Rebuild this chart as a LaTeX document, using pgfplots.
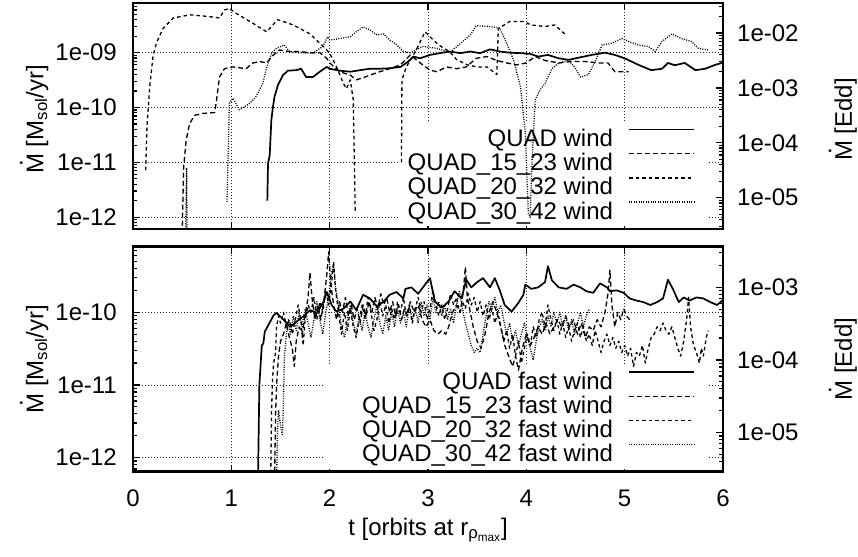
\documentclass[border=0pt]{standalone}
\usepackage{fontspec}
\setmainfont{Liberation Sans}
\usepackage{pgfplots}
\pgfplotsset{compat=1.18}
\newcommand\Mdot{\makebox[0pt][l]{\hspace{0.28em}\raisebox{0.86em}{.}}M}
\tikzset{
  sA/.style={black, line width=1.7pt, solid, line join=round},
  sB/.style={black, line width=1.3pt, dash pattern=on 5pt off 3pt, line join=round},
  sC/.style={black, line width=1.3pt, dash pattern=on 3.5pt off 3pt, line join=round},
  sD/.style={black, line width=1.3pt, dash pattern=on 1pt off 1.4pt, line join=round},
}
\pgfplotsset{
  legend image code/.code={\path[draw=none,fill=none] (0pt,0pt) (95pt,0pt); \draw[#1] (16pt,8.5pt) -- (81pt,8.5pt);},
}
\begin{document}
\fontsize{24}{28}\selectfont
\begin{tikzpicture}
\useasboundingbox (0,0) rectangle (858pt,556pt);
% ================= TOP PANEL =================
\begin{axis}[scale only axis, width=590pt, xmin=0, xmax=6, ymode=log,
  axis line style={line width=2.5pt},
  tick align=inside, major tick length=7pt, minor tick length=4pt,
  every tick/.append style={line width=1.2pt, black},
  xtick={0,1,2,3,4,5,6}, xtick pos=both, ytick pos=left,
  grid=major,
  major grid style={line width=0.8pt, dash pattern=on 1pt off 2pt, black!85},
  yticklabel style={anchor=east, inner sep=0pt, xshift=-16pt},
  legend plot pos=right,
  legend cell align=right,
  legend style={anchor=north east, fill=none, draw=none, inner xsep=0pt, inner ysep=5.5pt,
    row sep=6.5pt, column sep=0pt, nodes={inner sep=0pt, text height=17pt, text depth=0pt},
    at={(rel axis cs:0.975,0.469)}},
  height=226pt, at={(133pt,327pt)}, anchor=south west,
  ymin=6.1e-13, ymax=8.05e-9,
  ytick={1e-12,1e-11,1e-10,1e-9}, yticklabels={1e-12,1e-11,1e-10,1e-09},
  minor ytick={7e-13,8e-13,9e-13,2e-12,3e-12,4e-12,5e-12,6e-12,7e-12,8e-12,9e-12,2e-11,3e-11,4e-11,5e-11,6e-11,7e-11,8e-11,9e-11,2e-10,3e-10,4e-10,5e-10,6e-10,7e-10,8e-10,9e-10,2e-9,3e-9,4e-9,5e-9,6e-9,7e-9,8e-9},
  xticklabels={},
  ylabel={\Mdot{} [M\textsubscript{sol}/yr]},
  ylabel style={at={(axis description cs:-0.152,0.485)}, anchor=base, inner sep=0pt},
]
\fill[white] (rel axis cs:0.449,0.013) rectangle (rel axis cs:0.975,0.469);
\addlegendimage{sA}\addlegendentry{QUAD wind}
\addlegendimage{sB}\addlegendentry{QUAD\_15\_23 wind}
\addlegendimage{sC}\addlegendentry{QUAD\_20\_32 wind}
\addlegendimage{sD}\addlegendentry{QUAD\_30\_42 wind}
\end{axis}
\begin{axis}[scale only axis, width=590pt, xmin=0, xmax=6, ymode=log,
  axis x line=none, axis y line*=right,
  axis line style={line width=2.5pt},
  tick align=inside, major tick length=7pt, minor tick length=4pt,
  every tick/.append style={line width=1.2pt, black},
  yticklabel style={anchor=west, inner sep=0pt, xshift=14pt},
  height=226pt, at={(133pt,327pt)}, anchor=south west,
  ymin=2.68e-6, ymax=3.53e-2,
  ytick={1e-5,1e-4,1e-3,1e-2}, yticklabels={1e-05,1e-04,1e-03,1e-02},
  minor ytick={3e-6,4e-6,5e-6,6e-6,7e-6,8e-6,9e-6,2e-5,3e-5,4e-5,5e-5,6e-5,7e-5,8e-5,9e-5,2e-4,3e-4,4e-4,5e-4,6e-4,7e-4,8e-4,9e-4,2e-3,3e-3,4e-3,5e-3,6e-3,7e-3,8e-3,9e-3,2e-2,3e-2},
  ylabel={\Mdot{} [Edd]},
  ylabel style={at={(axis description cs:1.2186,0.485)}, anchor=base, inner sep=0pt},
]
\end{axis}
\begin{axis}[scale only axis, width=590pt, xmin=0, xmax=6, ymode=log,
  height=226pt, at={(133pt,327pt)}, anchor=south west, hide axis,
  ymin=6.1e-13, ymax=8.05e-9, unbounded coords=jump]
\addplot[sA] coordinates {(1.366,2.0e-12) (1.373,9.5e-12) (1.39,1.35e-11) (1.407,5.9e-11) (1.424,1.05e-10) (1.44,1.6e-10) (1.475,2.6e-10) (1.525,3.9e-10) (1.576,4.7e-10) (1.66,4.8e-10) (1.71,5.1e-10) (1.76,3.6e-10) (1.83,3.6e-10) (1.90,4.5e-10) (1.97,5.5e-10) (2.0,5.1e-10) (2.10,4.7e-10) (2.21,4.5e-10) (2.31,4.8e-10) (2.41,5.1e-10) (2.51,5.1e-10) (2.61,5.2e-10) (2.72,5.5e-10) (2.80,6.9e-10) (2.85,8.5e-10) (2.92,7.9e-10) (3.02,9.1e-10) (3.12,9.8e-10) (3.22,1.05e-9) (3.33,9.8e-10) (3.43,1.05e-9) (3.53,9.8e-10) (3.63,1.15e-9) (3.73,1.05e-9) (3.83,1.0e-9) (3.94,9.8e-10) (4.04,9.5e-10) (4.12,8.5e-10) (4.22,9.1e-10) (4.33,7.9e-10) (4.43,7.4e-10) (4.53,8.1e-10) (4.665,9.1e-10) (4.80,1.0e-9) (4.90,9.1e-10) (5.0,7.9e-10) (5.14,6.0e-10) (5.27,4.8e-10) (5.38,5.1e-10) (5.44,6.5e-10) (5.51,5.9e-10) (5.61,6.5e-10) (5.72,4.8e-10) (5.82,5.1e-10) (5.92,6.0e-10) (5.99,6.5e-10)};
\addplot[sB] coordinates {(0.50,5e-13) (0.515,8.3e-12) (0.525,1.26e-11) (0.54,2.5e-11) (0.576,5.1e-11) (0.627,7.2e-11) (0.71,7.8e-11) (0.83,8.1e-11) (0.85,1.38e-10) (0.88,3.6e-10) (0.93,5.1e-10) (1.02,5.5e-10) (1.15,5.1e-10) (1.22,6.5e-10) (1.29,6.9e-10) (1.36,6.5e-10) (1.41,8.5e-10) (1.49,1.12e-9) (1.59,1.05e-9) (1.69,1.05e-9) (1.80,1.0e-9) (1.90,1.0e-9) (1.97,7.9e-10) (2.0,6.5e-10) (2.10,4.5e-10) (2.21,3.9e-10) (2.27,3.2e-10) (2.34,3.5e-10) (2.41,3.9e-10) (2.51,4.5e-10) (2.61,5.1e-10) (2.72,6.0e-10) (2.82,9.1e-10) (2.92,6.5e-10) (3.02,4.8e-10) (3.09,4.5e-10) (3.19,5.5e-10) (3.29,5.1e-10) (3.39,5.5e-10) (3.49,7.9e-10) (3.60,8.5e-10) (3.70,7.2e-10) (3.80,6.5e-10) (3.90,6.0e-10) (4.0,6.5e-10) (4.09,8.5e-10) (4.19,7.2e-10) (4.33,6.5e-10) (4.46,6.9e-10) (4.60,6.9e-10) (4.73,6.5e-10) (4.83,6.5e-10) (4.90,4.5e-10) (5.04,4.5e-10)};
\addplot[sC] coordinates {(0.129,7.2e-12) (0.142,4.5e-11) (0.17,2.4e-10) (0.203,8.5e-10) (0.237,1.48e-9) (0.305,2.76e-9) (0.41,4.3e-9) (0.58,4.9e-9) (0.75,4.6e-9) (0.88,4.3e-9) (0.93,6.0e-9) (0.98,6.4e-9) (1.05,5.2e-9) (1.19,3.7e-9) (1.36,2.4e-9) (1.47,4.0e-9) (1.63,3.2e-9) (1.80,2.2e-9) (1.90,1.48e-9) (1.97,1.12e-9) (2.0,9.8e-10) (2.07,5.5e-10) (2.14,2.75e-10) (2.17,2.2e-10) (2.21,3.2e-10) (2.24,1.38e-10) (2.26,1.2e-12) (2.265,nan) (2.73,1.0e-11) (2.735,3.2e-10) (2.78,5.5e-10) (2.88,1.12e-9) (2.97,2.4e-9) (3.02,1.95e-9) (3.09,1.48e-9) (3.16,1.2e-9) (3.22,1.05e-9) (3.29,7.5e-10) (3.40,6.0e-10) (3.50,5.5e-10) (3.60,5.5e-10) (3.70,4.0e-10) (3.715,2.76e-9) (3.75,3.0e-9) (3.83,3.7e-9) (3.97,3.7e-9) (4.05,3.2e-9) (4.19,3.0e-9) (4.29,3.2e-9) (4.39,2.2e-9)};
\addplot[sD] coordinates {(0.535,5e-13) (0.545,8e-12) (0.55,5e-13) (0.555,nan) (0.956,1.9e-12) (0.98,1.2e-10) (1.02,1.48e-10) (1.08,9.1e-11) (1.12,1.0e-10) (1.19,1.2e-10) (1.25,1.58e-10) (1.32,2.75e-10) (1.36,5.5e-10) (1.41,9.8e-10) (1.46,1.2e-9) (1.54,1.38e-9) (1.59,1.05e-9) (1.69,1.0e-9) (1.83,9.8e-10) (1.93,1.3e-9) (1.98,1.95e-9) (2.0,1.7e-9) (2.10,1.8e-9) (2.21,1.95e-9) (2.27,2.4e-9) (2.34,2.95e-9) (2.41,2.6e-9) (2.48,2.1e-9) (2.55,2.2e-9) (2.61,1.7e-9) (2.68,1.4e-9) (2.75,1.05e-9) (2.82,1.0e-9) (2.95,1.3e-9) (3.09,1.2e-9) (3.22,1.0e-9) (3.33,1.48e-9) (3.43,2.1e-9) (3.49,3.1e-9) (3.63,3.0e-9) (3.73,2.8e-9) (3.80,1.48e-9) (3.87,7.4e-10) (3.94,2.4e-10) (3.99,3.4e-11) (4.02,1.2e-12) (4.04,1.0e-12) (4.055,8.3e-12) (4.09,1.38e-10) (4.14,2.1e-10) (4.19,2.75e-10) (4.26,5.1e-10) (4.33,6.5e-10) (4.43,7.2e-10) (4.49,5.5e-10) (4.55,3.6e-10) (4.63,4.0e-10) (4.70,6.9e-10) (4.77,1.38e-9) (4.87,1.48e-9) (4.97,1.82e-9) (5.04,1.6e-9) (5.14,1.38e-9) (5.24,1.3e-9) (5.31,1.05e-9) (5.38,1.6e-9) (5.48,2.2e-9) (5.58,1.8e-9) (5.68,1.6e-9) (5.75,1.2e-9) (5.85,1.12e-9)};
\end{axis}
% ================= BOTTOM PANEL =================
\begin{axis}[scale only axis, width=590pt, xmin=0, xmax=6, ymode=log,
  axis line style={line width=2.5pt},
  tick align=inside, major tick length=7pt, minor tick length=4pt,
  every tick/.append style={line width=1.2pt, black},
  xtick={0,1,2,3,4,5,6}, xtick pos=both, ytick pos=left,
  grid=major,
  major grid style={line width=0.8pt, dash pattern=on 1pt off 2pt, black!85},
  yticklabel style={anchor=east, inner sep=0pt, xshift=-16pt},
  xticklabel style={anchor=north, inner sep=0pt, yshift=-18pt},
  legend plot pos=right,
  legend cell align=right,
  legend style={anchor=north east, fill=none, draw=none, inner xsep=0pt, inner ysep=5.5pt,
    row sep=6.5pt, column sep=0pt, nodes={inner sep=0pt, text height=17pt, text depth=0pt},
    at={(rel axis cs:0.975,0.471)}},
  height=225pt, at={(133pt,84.3pt)}, anchor=south west,
  ymin=6.41e-13, ymax=7.98e-10,
  ytick={1e-12,1e-11,1e-10}, yticklabels={1e-12,1e-11,1e-10},
  minor ytick={7e-13,8e-13,9e-13,2e-12,3e-12,4e-12,5e-12,6e-12,7e-12,8e-12,9e-12,2e-11,3e-11,4e-11,5e-11,6e-11,7e-11,8e-11,9e-11,2e-10,3e-10,4e-10,5e-10,6e-10,7e-10},
  xticklabels={0,1,2,3,4,5,6},
  xlabel={t [orbits at r\textsubscript{ρ\textsubscript{max}}]},
  xlabel style={at={(axis description cs:0.5,0)}, anchor=base, yshift=-63.3pt, inner sep=0pt},
  ylabel={\Mdot{} [M\textsubscript{sol}/yr]},
  ylabel style={at={(axis description cs:-0.152,0.5)}, anchor=base, inner sep=0pt},
]
\fill[white] (rel axis cs:0.325,0.013) rectangle (rel axis cs:0.975,0.471);
\addlegendimage{sA}\addlegendentry{QUAD fast wind}
\addlegendimage{sB}\addlegendentry{QUAD\_15\_23 fast wind}
\addlegendimage{sC}\addlegendentry{QUAD\_20\_32 fast wind}
\addlegendimage{sD}\addlegendentry{QUAD\_30\_42 fast wind}
\end{axis}
\begin{axis}[scale only axis, width=590pt, xmin=0, xmax=6, ymode=log,
  axis x line=none, axis y line*=right,
  axis line style={line width=2.5pt},
  tick align=inside, major tick length=7pt, minor tick length=4pt,
  every tick/.append style={line width=1.2pt, black},
  yticklabel style={anchor=west, inner sep=0pt, xshift=14pt},
  height=225pt, at={(133pt,84.3pt)}, anchor=south west,
  ymin=2.9e-6, ymax=3.61e-3,
  ytick={1e-5,1e-4,1e-3}, yticklabels={1e-05,1e-04,1e-03},
  minor ytick={3e-6,4e-6,5e-6,6e-6,7e-6,8e-6,9e-6,2e-5,3e-5,4e-5,5e-5,6e-5,7e-5,8e-5,9e-5,2e-4,3e-4,4e-4,5e-4,6e-4,7e-4,8e-4,9e-4,2e-3,3e-3},
  ylabel={\Mdot{} [Edd]},
  ylabel style={at={(axis description cs:1.2186,0.5)}, anchor=base, inner sep=0pt},
]
\end{axis}
\begin{axis}[scale only axis, width=590pt, xmin=0, xmax=6, ymode=log,
  height=225pt, at={(133pt,84.3pt)}, anchor=south west, hide axis,
  ymin=6.41e-13, ymax=7.98e-10, unbounded coords=jump]
\addplot[sA] coordinates {(1.27,4e-13) (1.285,1.0e-11) (1.31,3.5e-11) (1.325,3.7e-11) (1.34,5.4e-11) (1.38,6.8e-11) (1.43,9.1e-11) (1.46,9.8e-11) (1.53,7.9e-11) (1.60,6.3e-11) (1.66,7.4e-11) (1.73,8.7e-11) (1.80,1.07e-10) (1.87,9.8e-11) (1.94,1.41e-10) (1.97,1.9e-10) (2.02,1.26e-10) (2.07,1.02e-10) (2.14,1.12e-10) (2.21,1.41e-10) (2.27,1.07e-10) (2.34,1.74e-10) (2.41,1.55e-10) (2.48,1.2e-10) (2.55,1.41e-10) (2.61,1.74e-10) (2.68,1.9e-10) (2.75,1.55e-10) (2.77,2.1e-10) (2.83,2.2e-10) (2.90,1.8e-10) (2.97,2.4e-10) (3.02,2.95e-10) (3.07,1.41e-10) (3.14,1.15e-10) (3.21,1.41e-10) (3.27,1.95e-10) (3.34,1.55e-10) (3.39,2.8e-10) (3.44,2.2e-10) (3.50,2.6e-10) (3.56,2.95e-10) (3.63,2.2e-10) (3.68,2.95e-10) (3.73,2.0e-10) (3.78,1.26e-10) (3.85,1.02e-10) (3.92,1.35e-10) (3.97,1.74e-10) (3.99,2.4e-10) (4.05,2.1e-10) (4.12,2.2e-10) (4.19,2.6e-10) (4.22,4.3e-10) (4.26,2.75e-10) (4.33,2.2e-10) (4.41,2.1e-10) (4.48,2.4e-10) (4.55,2.2e-10) (4.61,1.95e-10) (4.68,1.85e-10) (4.75,2.5e-10) (4.82,2.2e-10) (4.85,1.95e-10) (4.92,2.0e-10) (4.99,1.85e-10) (5.05,1.55e-10) (5.12,1.45e-10) (5.19,1.38e-10) (5.26,1.26e-10) (5.33,1.38e-10) (5.39,1.55e-10) (5.44,2.8e-10) (5.49,2.1e-10) (5.55,1.38e-10) (5.60,1.6e-10) (5.66,1.45e-10) (5.73,1.6e-10) (5.80,1.55e-10) (5.87,1.38e-10) (5.94,1.26e-10) (6.0,1.48e-10)};
\addplot[sB] coordinates {(1.44,5e-13) (1.45,4.0e-12) (1.46,1.0e-11) (1.48,2.5e-11) (1.50,4.0e-11) (1.53,5.0e-11) (1.56,7.1e-11) (1.59,4.5e-11) (1.62,3.2e-11) (1.64,1.8e-11) (1.66,4.0e-11) (1.69,6.3e-11) (1.72,5.0e-11) (1.75,8.9e-11) (1.78,1.6e-10) (1.80,3.5e-10) (1.82,1.6e-10) (1.85,7.9e-11) (1.88,1.26e-10) (1.91,7.9e-11) (1.94,1.4e-10) (1.97,3.2e-10) (1.99,6.8e-10) (2.01,2.5e-10) (2.04,1.26e-10) (2.07,7.9e-11) (2.10,1.4e-10) (2.13,1.0e-10) (2.16,1.6e-10) (2.19,8.9e-11) (2.22,1.26e-10) (2.25,7.9e-11) (2.28,1.12e-10) (2.31,7.1e-11) (2.34,1.26e-10) (2.37,8.9e-11) (2.40,1.4e-10) (2.43,1.0e-10) (2.46,1.6e-10) (2.49,1.12e-10) (2.52,1.8e-10) (2.55,1.26e-10) (2.58,1.6e-10) (2.61,1.0e-10) (2.64,1.4e-10) (2.67,8.9e-11) (2.70,1.26e-10) (2.73,7.9e-11) (2.76,1.12e-10) (2.79,8.9e-11) (2.82,1.4e-10) (2.86,1.0e-10) (2.90,1.26e-10) (2.94,7.9e-11) (2.98,6.3e-11) (3.02,7.9e-11) (3.06,5.6e-11) (3.10,5.0e-11) (3.14,5.6e-11) (3.18,5.0e-11) (3.21,6.3e-11) (3.25,1.0e-10) (3.29,1.26e-10) (3.33,1.0e-10) (3.36,2.0e-10) (3.38,4.2e-10) (3.40,1.6e-10) (3.43,1.0e-10) (3.46,6.3e-11) (3.50,4.0e-11) (3.54,3.2e-11) (3.58,5.0e-11) (3.62,1.0e-10) (3.66,1.4e-10) (3.70,1.0e-10) (3.74,6.3e-11) (3.78,3.5e-11) (3.82,2.5e-11) (3.86,1.8e-11) (3.89,2.5e-11) (3.92,1.6e-11) (3.96,3.2e-11) (4.00,5.0e-11) (4.04,3.5e-11) (4.08,4.5e-11) (4.12,6.3e-11) (4.16,5.0e-11) (4.20,7.1e-11) (4.24,5.0e-11) (4.28,6.3e-11) (4.32,7.9e-11) (4.36,6.3e-11) (4.40,8.9e-11) (4.44,6.3e-11) (4.48,7.9e-11) (4.52,5.0e-11) (4.56,7.1e-11) (4.60,4.5e-11) (4.64,6.3e-11) (4.68,5.6e-11) (4.72,7.9e-11) (4.76,6.3e-11) (4.80,1.0e-10) (4.83,1.8e-10) (4.85,3.8e-10) (4.87,1.26e-10) (4.90,6.3e-11) (4.93,1.0e-10) (4.96,7.9e-11) (4.99,1.12e-10) (5.02,8.9e-11) (5.05,7.9e-11)};
\addplot[sC] coordinates {(1.40,5e-13) (1.41,5.0e-12) (1.42,1.26e-11) (1.43,2.0e-11) (1.45,2.8e-11) (1.46,6.3e-11) (1.48,8.9e-11) (1.50,7.1e-11) (1.53,1.0e-10) (1.56,6.3e-11) (1.59,7.9e-11) (1.62,5.0e-11) (1.65,7.9e-11) (1.68,1.26e-10) (1.71,7.1e-11) (1.73,3.5e-11) (1.75,7.9e-11) (1.78,1.26e-10) (1.81,1.0e-10) (1.84,1.6e-10) (1.87,7.9e-11) (1.90,1.4e-10) (1.93,1.0e-10) (1.96,2.0e-10) (1.99,1.26e-10) (2.02,2.5e-10) (2.04,5.0e-10) (2.06,2.0e-10) (2.09,1.0e-10) (2.12,5.0e-11) (2.15,1.0e-10) (2.18,5.6e-11) (2.21,1.12e-10) (2.24,6.3e-11) (2.27,4.5e-11) (2.30,7.9e-11) (2.33,1.26e-10) (2.36,7.9e-11) (2.39,1.6e-10) (2.42,1.0e-10) (2.45,5.6e-11) (2.48,7.9e-11) (2.51,1.4e-10) (2.54,8.9e-11) (2.57,1.26e-10) (2.60,7.1e-11) (2.63,1.12e-10) (2.66,7.9e-11) (2.69,1.4e-10) (2.72,1.0e-10) (2.75,1.6e-10) (2.78,8.9e-11) (2.81,1.26e-10) (2.84,7.1e-11) (2.87,1.12e-10) (2.90,1.6e-10) (2.93,1.0e-10) (2.96,1.4e-10) (2.99,7.9e-11) (3.02,1.12e-10) (3.05,2.0e-10) (3.08,1.26e-10) (3.11,8.9e-11) (3.14,1.26e-10) (3.17,7.9e-11) (3.20,1.12e-10) (3.23,1.8e-10) (3.26,1.26e-10) (3.29,1.6e-10) (3.32,1.0e-10) (3.35,1.4e-10) (3.38,1.12e-10) (3.41,1.8e-10) (3.44,1.26e-10) (3.47,1.6e-10) (3.50,1.0e-10) (3.53,1.4e-10) (3.56,8.9e-11) (3.59,1.26e-10) (3.62,7.9e-11) (3.65,1.12e-10) (3.68,7.1e-11) (3.71,1.0e-10) (3.74,6.3e-11) (3.77,4.0e-11) (3.80,5.6e-11) (3.83,3.2e-11) (3.86,5.0e-11) (3.89,2.5e-11) (3.92,4.0e-11) (3.95,2.0e-11) (3.98,3.2e-11) (4.01,5.0e-11) (4.04,3.5e-11) (4.07,6.3e-11) (4.10,4.5e-11) (4.13,7.9e-11) (4.16,1.0e-10) (4.19,6.3e-11) (4.22,1.26e-10) (4.25,7.9e-11) (4.28,5.6e-11) (4.31,7.9e-11) (4.34,5.0e-11) (4.37,7.1e-11) (4.40,4.5e-11) (4.43,6.3e-11) (4.46,4.0e-11) (4.49,5.6e-11) (4.52,7.1e-11) (4.55,4.5e-11) (4.58,6.3e-11) (4.61,4.0e-11) (4.64,5.0e-11) (4.67,3.5e-11) (4.70,5.6e-11) (4.73,4.0e-11) (4.76,2.8e-11) (4.79,4.0e-11) (4.82,5.0e-11) (4.85,3.5e-11) (4.88,4.5e-11) (4.91,3.2e-11) (4.94,4.0e-11) (4.97,2.8e-11) (5.00,3.5e-11) (5.03,2.5e-11) (5.06,3.2e-11) (5.09,1.8e-11) (5.12,2.8e-11) (5.15,2.5e-11) (5.18,3.5e-11) (5.21,2.0e-11) (5.24,3.2e-11) (5.27,4.5e-11) (5.30,5.0e-11) (5.33,6.3e-11) (5.36,5.6e-11) (5.39,7.1e-11) (5.42,5.6e-11) (5.45,5.0e-11) (5.48,6.3e-11) (5.51,4.5e-11) (5.54,3.2e-11) (5.57,2.5e-11) (5.60,4.0e-11) (5.63,7.9e-11) (5.65,1.6e-10) (5.67,6.3e-11) (5.70,3.5e-11) (5.73,2.8e-11) (5.76,2.0e-11) (5.78,3.2e-11) (5.80,2.5e-11) (5.83,4.5e-11) (5.85,5.6e-11)};
\addplot[sD] coordinates {(1.46,5e-13) (1.47,2.5e-12) (1.48,4.5e-12) (1.50,2.8e-12) (1.52,2.0e-12) (1.53,6.3e-12) (1.54,2.5e-11) (1.56,5.0e-11) (1.58,7.9e-11) (1.60,5.0e-11) (1.63,8.9e-11) (1.66,5.6e-11) (1.69,1.0e-10) (1.72,6.3e-11) (1.75,1.12e-10) (1.78,7.1e-11) (1.81,4.5e-11) (1.84,7.9e-11) (1.87,1.4e-10) (1.90,7.9e-11) (1.93,5.0e-11) (1.96,1.0e-10) (1.99,1.6e-10) (2.02,3.5e-10) (2.04,4.5e-10) (2.06,2.2e-10) (2.09,1.26e-10) (2.12,6.3e-11) (2.15,4.5e-11) (2.18,7.9e-11) (2.21,1.26e-10) (2.24,7.1e-11) (2.27,5.0e-11) (2.30,8.9e-11) (2.33,5.6e-11) (2.36,1.0e-10) (2.39,6.3e-11) (2.42,4.5e-11) (2.45,7.9e-11) (2.48,1.26e-10) (2.51,7.1e-11) (2.54,5.0e-11) (2.57,8.9e-11) (2.60,5.6e-11) (2.63,1.0e-10) (2.66,6.3e-11) (2.69,1.12e-10) (2.72,7.1e-11) (2.75,1.0e-10) (2.78,6.3e-11) (2.81,1.26e-10) (2.84,7.9e-11) (2.87,1.12e-10) (2.90,7.1e-11) (2.93,1.4e-10) (2.96,8.9e-11) (2.99,1.26e-10) (3.02,7.9e-11) (3.05,1.6e-10) (3.08,1.0e-10) (3.11,1.4e-10) (3.14,8.9e-11) (3.17,1.26e-10) (3.20,7.9e-11) (3.23,1.12e-10) (3.26,7.1e-11) (3.29,1.26e-10) (3.32,2.0e-10) (3.35,1.12e-10) (3.38,7.1e-11) (3.41,5.0e-11) (3.44,3.5e-11) (3.47,2.8e-11) (3.50,3.2e-11) (3.53,2.8e-11) (3.56,5.0e-11) (3.59,8.9e-11) (3.62,1.4e-10) (3.65,1.12e-10) (3.68,1.6e-10) (3.71,1.0e-10) (3.74,1.26e-10) (3.77,7.9e-11) (3.80,5.0e-11) (3.83,7.1e-11) (3.86,4.0e-11) (3.89,5.6e-11) (3.92,3.5e-11) (3.95,5.0e-11) (3.98,7.1e-11) (4.01,4.5e-11) (4.04,3.2e-11) (4.07,2.2e-11) (4.10,4.0e-11) (4.13,6.3e-11) (4.16,7.9e-11) (4.19,5.6e-11) (4.22,8.9e-11) (4.25,6.3e-11) (4.28,1.0e-10) (4.31,7.1e-11) (4.34,1.0e-10) (4.37,6.3e-11) (4.40,8.9e-11) (4.43,5.6e-11) (4.46,7.9e-11) (4.49,5.0e-11) (4.52,7.1e-11) (4.55,1.0e-10) (4.58,6.3e-11) (4.61,8.9e-11) (4.64,1.12e-10)};
\end{axis}
\end{tikzpicture}
\end{document}
